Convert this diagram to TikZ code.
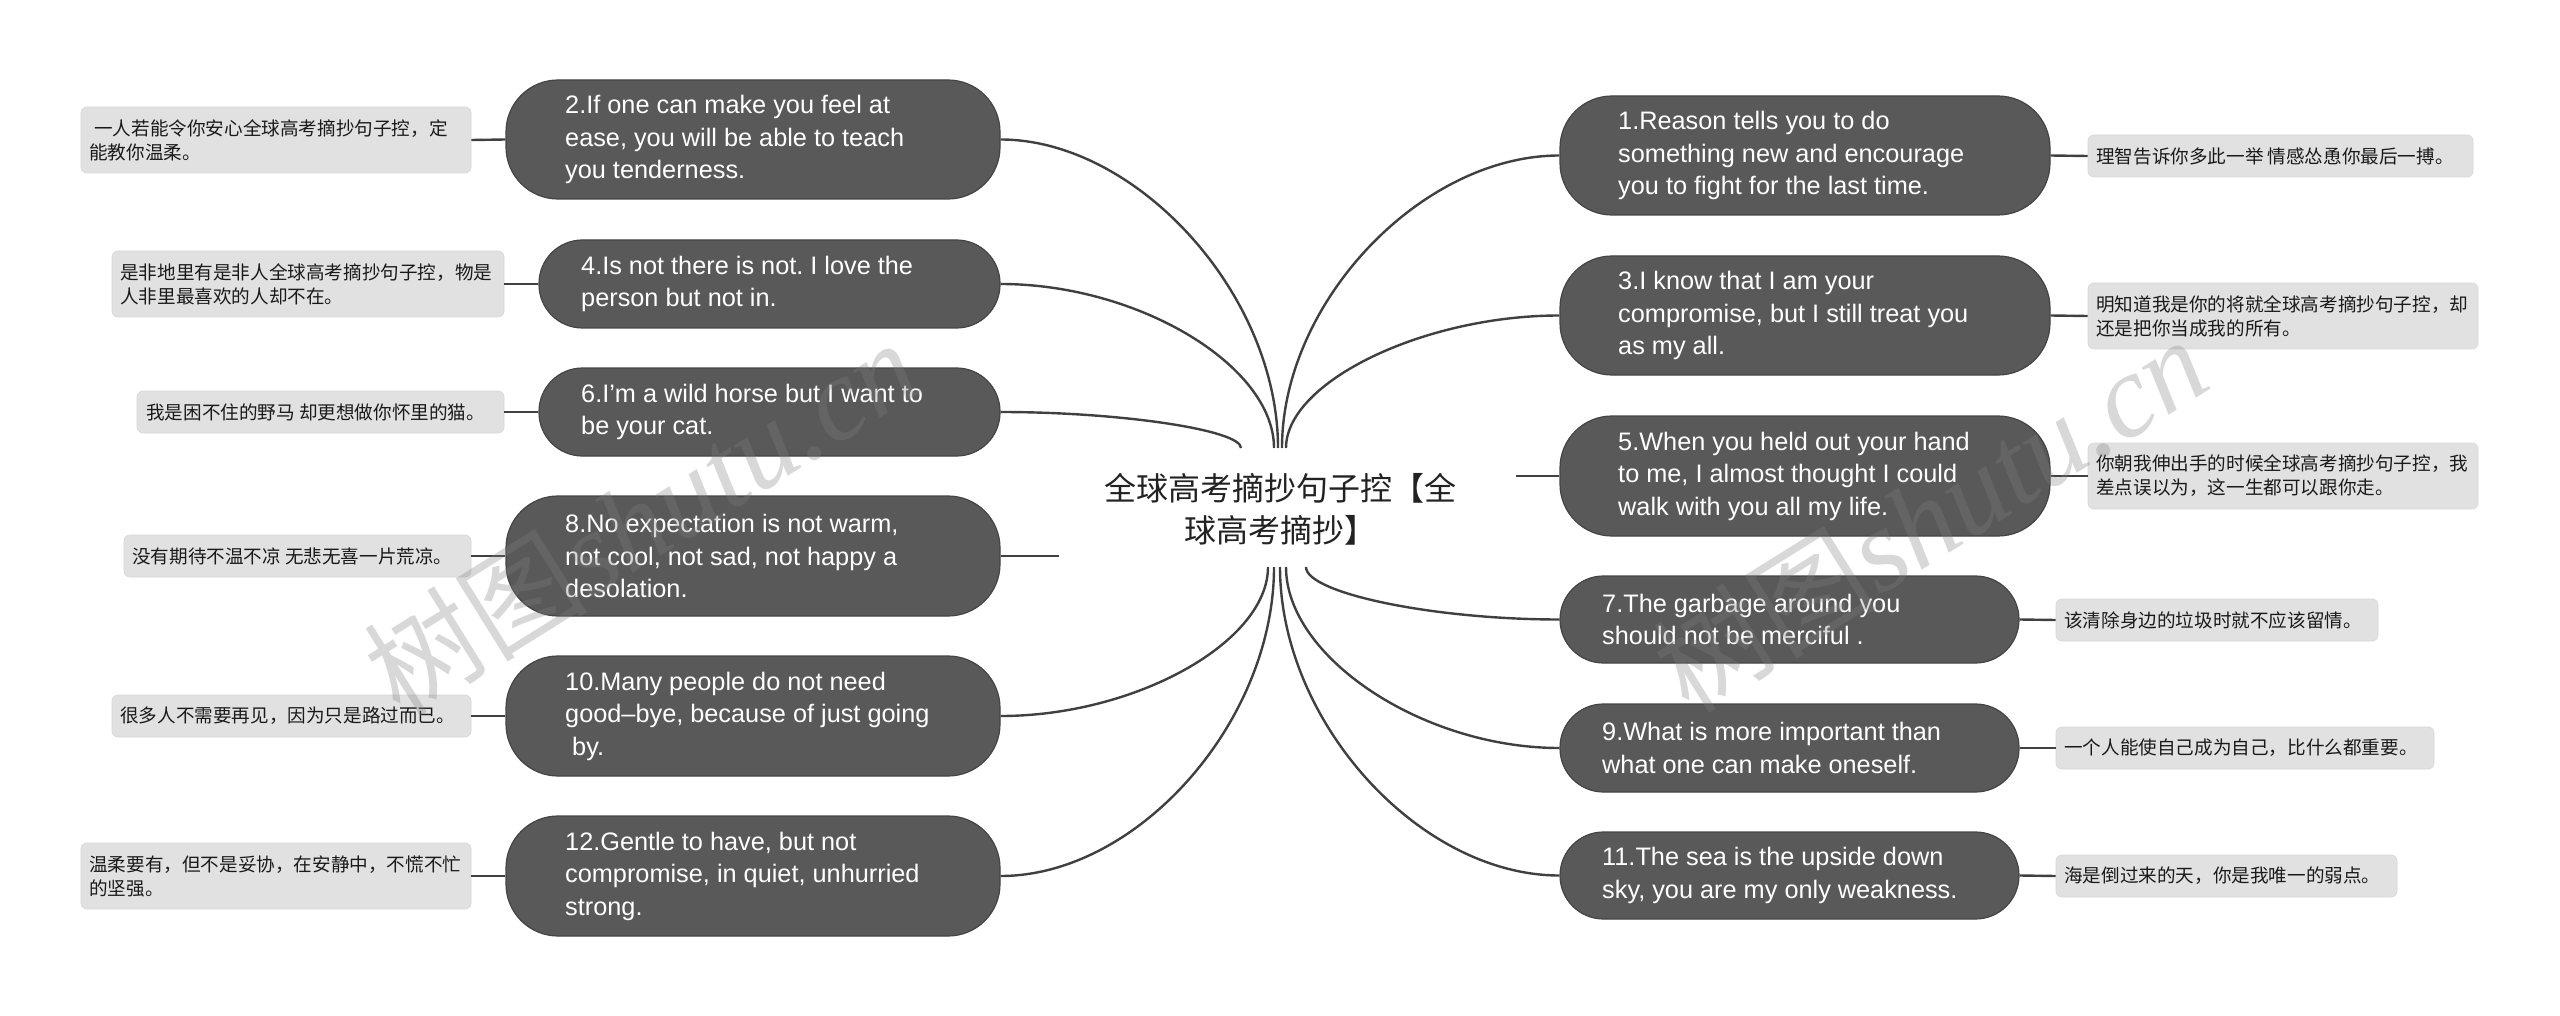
\documentclass[tikz,border=0pt]{standalone}
\usepackage{fontspec}
\setmainfont{Liberation Sans}
\newfontfamily\cjk{Noto Sans CJK SC}
\newfontfamily\wmserif{Liberation Serif}
\frenchspacing
\definecolor{nodefill}{HTML}{595959}
\definecolor{nodeedge}{HTML}{444444}
\definecolor{leaffill}{HTML}{E1E1E1}
\definecolor{leafedge}{HTML}{D6D6D6}
\definecolor{leaftext}{HTML}{1A1A1A}
\definecolor{linecol}{HTML}{404040}
\definecolor{centertext}{HTML}{222222}
\definecolor{wmcol}{HTML}{808080}
\begin{document}
\begin{tikzpicture}[x=1pt,y=-1pt,
  dark/.style={fill=nodefill, draw=nodeedge, line width=1.2pt},
  dtext/.style={anchor=west, inner sep=0pt, align=left, text=white, font=\frenchspacing\fontsize{25.3}{32.5}\selectfont},
  leaf/.style={fill=leaffill, draw=leafedge, line width=0.6pt, rounded corners=6pt},
  ltext/.style={anchor=west, inner sep=0pt, align=left, text=leaftext, font=\cjk\fontsize{18.6}{24}\selectfont},
  conn/.style={draw=linecol, line width=2.4pt},
  wm/.style={text=wmcol, opacity=0.3, rotate=32, inner sep=0pt}
]
\useasboundingbox (0,0) rectangle (2560,1016);
\fill[white] (0,0) rectangle (2560,1016);

% convergence points at the central topic
\coordinate (c4) at (1274,448);
\coordinate (c2) at (1278,448);
\coordinate (c1) at (1282,448);
\coordinate (c3) at (1286,448);
\coordinate (c6) at (1241,448);
\coordinate (c10) at (1268,567);
\coordinate (c12) at (1274,567);
\coordinate (c11) at (1280,567);
\coordinate (c9) at (1286,567);
\coordinate (c7) at (1306,567);
\coordinate (c8) at (1059,556);
\coordinate (c5) at (1516,476);

% main topic boxes
\node[dark, rounded corners=52pt, minimum width=494pt, minimum height=119pt] (n2) at (753,139.5) {};
\node[dark, rounded corners=43.5pt, minimum width=461pt, minimum height=88pt] (n4) at (769.5,284) {};
\node[dark, rounded corners=43.5pt, minimum width=461pt, minimum height=88pt] (n6) at (769.5,412) {};
\node[dark, rounded corners=52pt, minimum width=494pt, minimum height=120pt] (n8) at (753,556) {};
\node[dark, rounded corners=52pt, minimum width=494pt, minimum height=120pt] (n10) at (753,716) {};
\node[dark, rounded corners=52pt, minimum width=494pt, minimum height=120pt] (n12) at (753,876) {};
\node[dark, rounded corners=52pt, minimum width=490pt, minimum height=119pt] (n1) at (1805,155.5) {};
\node[dark, rounded corners=52pt, minimum width=490pt, minimum height=119pt] (n3) at (1805,315.5) {};
\node[dark, rounded corners=52pt, minimum width=490pt, minimum height=120pt] (n5) at (1805,476) {};
\node[dark, rounded corners=43.5pt, minimum width=459pt, minimum height=87pt] (n7) at (1789.5,619.5) {};
\node[dark, rounded corners=43.5pt, minimum width=459pt, minimum height=88pt] (n9) at (1789.5,748) {};
\node[dark, rounded corners=43.5pt, minimum width=459pt, minimum height=87pt] (n11) at (1789.5,875.5) {};

% leaves
\node[leaf, minimum width=390pt, minimum height=66pt] (l2) at (276,140) {};
\node[leaf, minimum width=392pt, minimum height=66pt] (l4) at (308,284) {};
\node[leaf, minimum width=367pt, minimum height=42pt] (l6) at (320.5,412) {};
\node[leaf, minimum width=347pt, minimum height=42pt] (l8) at (297.5,556) {};
\node[leaf, minimum width=359pt, minimum height=42pt] (l10) at (291.5,716) {};
\node[leaf, minimum width=390pt, minimum height=66pt] (l12) at (276,876) {};
\node[leaf, minimum width=385pt, minimum height=42pt] (l1) at (2280.5,156) {};
\node[leaf, minimum width=390pt, minimum height=66pt] (l3) at (2283,316) {};
\node[leaf, minimum width=390pt, minimum height=66pt] (l5) at (2283,476) {};
\node[leaf, minimum width=322pt, minimum height=42pt] (l7) at (2217,620) {};
\node[leaf, minimum width=378pt, minimum height=42pt] (l9) at (2245,748) {};
\node[leaf, minimum width=341pt, minimum height=42pt] (l11) at (2226.5,876) {};

% branch curves
\draw[conn] (n2.east) .. controls +(136,0) and +(0,-154) .. (c2);
\draw[conn] (n4.east) .. controls +(138,0) and +(0,-82) .. (c4);
\draw[conn] (n6.east) .. controls +(120,0) and +(0,-18) .. (c6);
\draw[conn] (n8.east) -- (c8);
\draw[conn] (n10.east) .. controls +(135,0) and +(0,75) .. (c10);
\draw[conn] (n12.east) .. controls +(137,0) and +(0,155) .. (c12);
\draw[conn] (n1.west) .. controls +(-138,0) and +(0,-146) .. (c1);
\draw[conn] (n3.west) .. controls +(-136,0) and +(0,-66) .. (c3);
\draw[conn] (n5.west) -- (c5);
\draw[conn] (n7.west) .. controls +(-127,0) and +(0,26) .. (c7);
\draw[conn] (n9.west) .. controls +(-137,0) and +(0,90) .. (c9);
\draw[conn] (n11.west) .. controls +(-140,0) and +(0,155) .. (c11);

% leaf connectors
\draw[conn] (l2.east) -- (n2.west);
\draw[conn] (l4.east) -- (n4.west);
\draw[conn] (l6.east) -- (n6.west);
\draw[conn] (l8.east) -- (n8.west);
\draw[conn] (l10.east) -- (n10.west);
\draw[conn] (l12.east) -- (n12.west);
\draw[conn] (n1.east) -- (l1.west);
\draw[conn] (n3.east) -- (l3.west);
\draw[conn] (n5.east) -- (l5.west);
\draw[conn] (n7.east) -- (l7.west);
\draw[conn] (n9.east) -- (l9.west);
\draw[conn] (n11.east) -- (l11.west);

% central topic
\node[inner sep=0pt, align=center, text=centertext, font=\cjk\fontsize{32}{42}\selectfont] (c) at (1280,509) {全球高考摘抄句子控【全\\球高考摘抄】};

% texts of main topics
\node[dtext] (t2) at (565,139.5) {2.If one can make you feel at\\ease, you will be able to teach\\you tenderness.};
\node[dtext] (t4) at (581,284) {4.Is not there is not. I love the\\person but not in.};
\node[dtext] (t6) at (581,412) {6.I'm a wild horse but I want to\\be your cat.};
\node[dtext] (t8) at (565,556) {8.No expectation is not warm,\\not cool, not sad, not happy a\\desolation.};
\node[dtext] (t10) at (565,716) {10.Many people do not need\\good–bye, because of just going\\\hspace*{7pt}by.};
\node[dtext] (t12) at (565,876) {12.Gentle to have, but not\\compromise, in quiet, unhurried\\strong.};
\node[dtext] (t1) at (1618,155.5) {1.Reason tells you to do\\something new and encourage\\you to fight for the last time.};
\node[dtext] (t3) at (1618,315.5) {3.I know that I am your\\compromise, but I still treat you\\as my all.};
\node[dtext] (t5) at (1618,476) {5.When you held out your hand\\to me, I almost thought I could\\walk with you all my life.};
\node[dtext] (t7) at (1602,619.5) {7.The garbage around you\\should not be merciful .};
\node[dtext] (t9) at (1602,748) {9.What is more important than\\what one can make oneself.};
\node[dtext] (t11) at (1602,875.5) {11.The sea is the upside down\\sky, you are my only weakness.};

% texts of leaves
\node[ltext] (s2) at (89,140) {\hspace*{5pt}一人若能令你安心全球高考摘抄句子控，定\\能教你温柔。};
\node[ltext] (s4) at (120,284) {是非地里有是非人全球高考摘抄句子控，物是\\人非里最喜欢的人却不在。};
\node[ltext] (s6) at (146,412) {我是困不住的野马 却更想做你怀里的猫。};
\node[ltext] (s8) at (132,556) {没有期待不温不凉 无悲无喜一片荒凉。};
\node[ltext] (s10) at (120,716) {很多人不需要再见，因为只是路过而已。};
\node[ltext] (s12) at (89,876) {温柔要有，但不是妥协，在安静中，不慌不忙\\的坚强。};
\node[ltext] (s1) at (2096,156) {理智告诉你多此一举 情感怂恿你最后一搏。};
\node[ltext] (s3) at (2096,316) {明知道我是你的将就全球高考摘抄句子控，却\\还是把你当成我的所有。};
\node[ltext] (s5) at (2096,476) {你朝我伸出手的时候全球高考摘抄句子控，我\\差点误以为，这一生都可以跟你走。};
\node[ltext] (s7) at (2064,620) {该清除身边的垃圾时就不应该留情。};
\node[ltext] (s9) at (2064,748) {一个人能使自己成为自己，比什么都重要。};
\node[ltext] (s11) at (2064,876) {海是倒过来的天，你是我唯一的弱点。};

% watermarks
\node[wm] (wm1) at (641,518) {{\cjk\fontsize{112}{112}\selectfont 树图}{\wmserif\itshape\fontsize{118}{118}\selectfont shutu.cn}};
\node[wm] (wm2) at (1930,515) {{\cjk\fontsize{112}{112}\selectfont 树图}{\wmserif\itshape\fontsize{118}{118}\selectfont shutu.cn}};
\end{tikzpicture}
\end{document}
